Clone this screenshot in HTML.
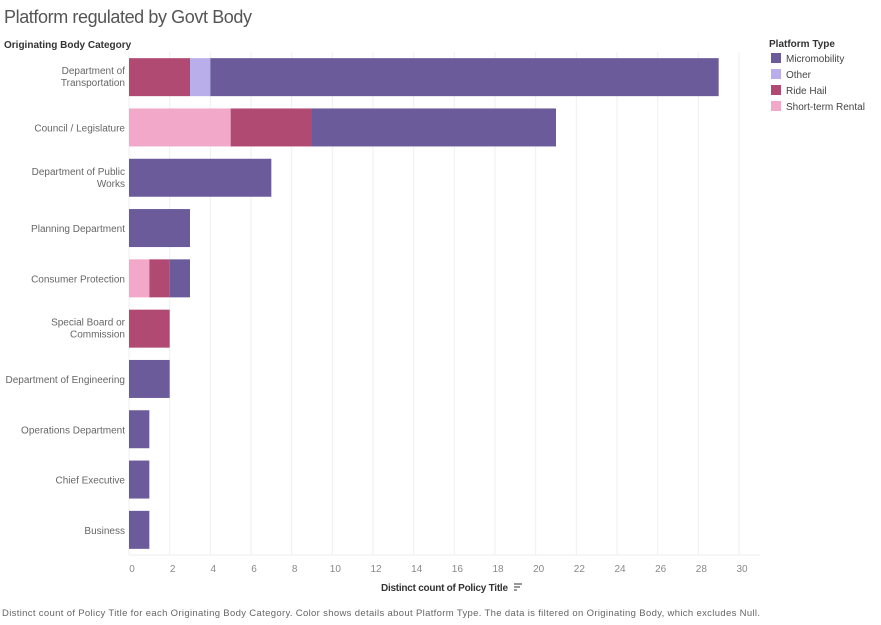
<!DOCTYPE html>
<html><head><meta charset="utf-8"><style>
body{margin:0;background:#fff;font-family:"Liberation Sans",sans-serif;}
svg text{font-family:"Liberation Sans",sans-serif;}
</style></head><body>
<svg id="c" width="881" height="620">
<text x="4" y="23" font-size="18" fill="#555" textLength="248">Platform regulated by Govt Body</text>
<text x="4" y="48" font-size="10" font-weight="bold" fill="#333">Originating Body Category</text>
<g id="grid"></g><g id="bars"></g><g id="ylab"></g><g id="xt"></g>
<line x1="129" y1="555" x2="760" y2="555" stroke="#eee"/>
<text x="381" y="591" font-size="10" font-weight="bold" fill="#333" textLength="127">Distinct count of Policy Title</text>
<g stroke="#555" stroke-width="1.2"><line x1="514" y1="584" x2="522" y2="584"/><line x1="514" y1="587" x2="520" y2="587"/><line x1="514" y1="590" x2="517" y2="590"/></g>
<text x="2" y="616" font-size="9.5" fill="#666" textLength="758">Distinct count of Policy Title for each Originating Body Category.  Color shows details about Platform Type. The data is filtered on Originating Body, which excludes Null.</text>
<text x="769" y="47" font-size="10" font-weight="bold" fill="#333">Platform Type</text>
<g id="legend"></g>
</svg>
<script>
const categories=[["Department of","Transportation"],["Council / Legislature"],["Department of Public","Works"],["Planning Department"],["Consumer Protection"],["Special Board or","Commission"],["Department of Engineering"],["Operations Department"],["Chief Executive"],["Business"]];
const shortTermRental=[0,5,0,0,1,0,0,0,0,0];
const rideHail=[3,4,0,0,1,2,0,0,0,0];
const other=[1,0,0,0,0,0,0,0,0,0];
const micromobility=[25,12,7,3,1,0,2,1,1,1];
const xTicks=[0,2,4,6,8,10,12,14,16,18,20,22,24,26,28,30];
const seriesNames=["Micromobility","Other","Ride Hail","Short-term Rental"];
const colors={"Micromobility":"#6b5b9b","Other":"#b9aeea","Ride Hail":"#b04a72","Short-term Rental":"#f2a9c9"};
const ns="http://www.w3.org/2000/svg";
const x=v=>129+v*(610/30);
const rowH=50.3, top0=52;
const yc=i=>top0+rowH*i+rowH/2;
function mk(t,a,p){const e=document.createElementNS(ns,t);for(const k in a)e.setAttribute(k,a[k]);p.appendChild(e);return e;}
const grid=document.getElementById('grid'),xt=document.getElementById('xt');
xTicks.forEach(t=>{
 const l=mk('line',{x1:x(t),x2:x(t),y1:52,y2:555,stroke:'#efefef'},grid);
 
 
 const tx=mk('text',{x:x(t)+3,y:572,'font-size':10,fill:'#888','text-anchor':'middle'},xt);tx.textContent=t;
 
 
});
const bars=document.getElementById('bars'),ylab=document.getElementById('ylab');
const stack=[["Short-term Rental",shortTermRental],["Ride Hail",rideHail],["Other",other],["Micromobility",micromobility]];
categories.forEach((c,i)=>{
 let acc=0;
 stack.forEach(([n,arr])=>{const v=arr[i];if(v>0){
  const r=mk('rect',{x:x(acc),y:yc(i)-19,width:x(acc+v)-x(acc),height:38,fill:colors[n]},bars);
  
  
 }acc+=v;});
 const t=mk('text',{x:125,y:yc(i)+(c.length>1?-3:4),'font-size':10,fill:'#666','text-anchor':'end'},ylab);
 
 
 c.forEach((s,j)=>{const ts=mk('tspan',{x:125,dy:j?12:0},t);ts.textContent=s;});
});
const lg=document.getElementById('legend');
seriesNames.forEach((n,i)=>{
 const g=mk('g',{},lg);
 
 
 mk('rect',{x:771,y:53+i*16,width:10,height:10,fill:colors[n]},g);
 const t=mk('text',{x:786,y:62+i*16,'font-size':10,fill:'#444'},g);t.textContent=n;
});
</script>
</body></html>
